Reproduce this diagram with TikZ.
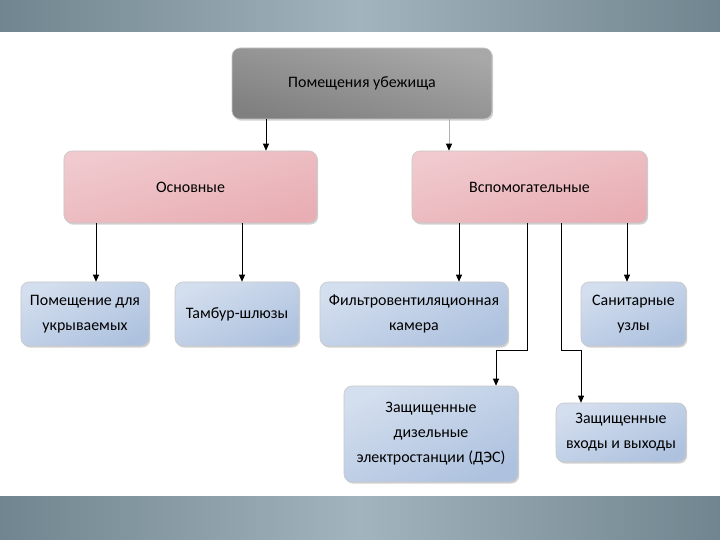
\documentclass[tikz,border=0pt]{standalone}
\usepackage{fontspec}
\setmainfont{Carlito}
\usetikzlibrary{arrows.meta,shadows,calc}
\definecolor{bandD}{HTML}{70858F}
\definecolor{bandL}{HTML}{A2B4BE}
\definecolor{grD}{HTML}{808080}
\definecolor{grM}{HTML}{E4E4E4}
\definecolor{grT}{HTML}{A8A8A8}
\definecolor{pkD}{HTML}{E8AEB4}
\definecolor{pkM}{HTML}{FAEDEF}
\definecolor{pkT}{HTML}{F0CACE}
\definecolor{blD}{HTML}{AEC2DF}
\definecolor{blM}{HTML}{EEF2F8}
\definecolor{blT}{HTML}{D3DEEE}
\definecolor{edge}{HTML}{C8C8C8}
\tikzset{
  box/.style={rounded corners=8bp, draw=edge, line width=0.6bp, align=center,
    font=\fontsize{16}{25}\selectfont, inner sep=0pt,
    drop shadow={opacity=0.35, shadow xshift=1.2bp, shadow yshift=-1.6bp}},
  graybox/.style={box, top color=grT, middle color=grM, bottom color=grD, shading angle=-15},
  pinkbox/.style={box, top color=pkT, middle color=pkM, bottom color=pkD, shading angle=15},
  bluebox/.style={box, top color=blT, middle color=blM, bottom color=blD, shading angle=25},
  arr/.style={line width=0.8bp, draw=black, -{Triangle[length=7bp,width=6bp]}},
  band/.style={left color=bandD, right color=bandD, middle color=bandL}
}
\begin{document}
\begin{tikzpicture}[x=1bp,y=-1bp]
\useasboundingbox (0,0) rectangle (720,540);
\fill[white] (0,0) rectangle (720,540);
\shade[band] (0,0) rectangle (720,32);
\shade[band] (0,496) rectangle (720,540);

\node[graybox, minimum width=260bp, minimum height=71bp] (top) at (362,83.5) {Помещения убежища};
\node[pinkbox, minimum width=253bp, minimum height=72bp] (osn) at (190.5,187) {Основные};
\node[pinkbox, minimum width=235bp, minimum height=72bp] (vsp) at (529.5,187) {Вспомогательные};

\node[bluebox, minimum width=128bp, minimum height=64bp] (pom) at (85,314) {Помещение для\\укрываемых};
\node[bluebox, minimum width=124bp, minimum height=64bp] (tam) at (237,314) {Тамбур-шлюзы};
\node[bluebox, minimum width=188bp, minimum height=64bp] (fil) at (414,314) {Фильтровентиляционная\\камера};
\node[bluebox, minimum width=105bp, minimum height=64bp] (san) at (633.5,314) {Санитарные\\узлы};
\node[bluebox, minimum width=174bp, minimum height=96bp] (des) at (431,434) {Защищенные\\дизельные\\электростанции (ДЭС)};
\node[bluebox, minimum width=130bp, minimum height=59bp] (vho) at (621,432.5) {Защищенные\\входы и выходы};

\coordinate (x1) at (266,0);
\coordinate (x2) at (449,0);
\coordinate (x3) at (96,0);
\coordinate (x4) at (242,0);
\coordinate (x5) at (459,0);
\coordinate (x6) at (627,0);
\coordinate (x7) at (527,350);
\coordinate (x8) at (561,350);
\coordinate (x9) at (496,0);
\coordinate (x10) at (581,0);

\draw[arr] (top.south -| x1) -- (osn.north -| x1);
\draw[arr, draw=black!30, -{Triangle[length=7bp,width=6bp,black]}] (top.south -| x2) -- (vsp.north -| x2);
\draw[arr] (osn.south -| x3) -- (pom.north -| x3);
\draw[arr] (osn.south -| x4) -- (tam.north -| x4);
\draw[arr] (vsp.south -| x5) -- (fil.north -| x5);
\draw[arr] (vsp.south -| x6) -- (san.north -| x6);
\draw[arr] (vsp.south -| x7) -- (x7) -- (x7 -| x9) -- (des.north -| x9);
\draw[arr] (vsp.south -| x8) -- (x8) -- (x8 -| x10) -- (vho.north -| x10);
\end{tikzpicture}
\end{document}
